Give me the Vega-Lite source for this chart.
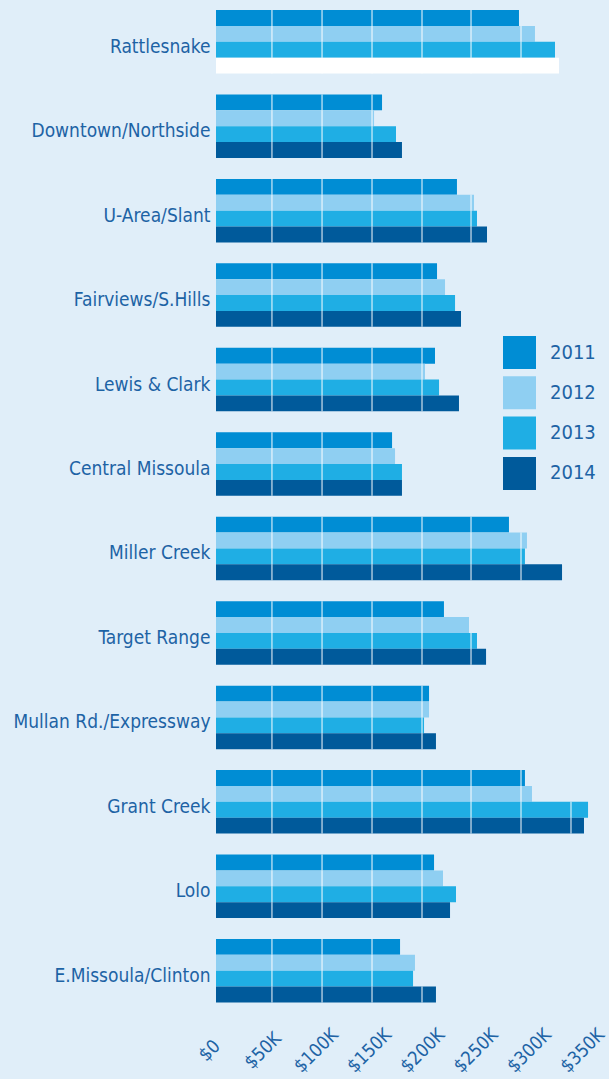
{
  "$schema": "https://vega.github.io/schema/vega-lite/v6.json",
  "width": 373,
  "height": 992.5,
  "autosize": {"type": "none"},
  "padding": {"left": 216, "top": 10, "right": 20, "bottom": 76.5},
  "background": "#e0eef9",
  "config": {"view": {"stroke": null}, "font": "DejaVu Sans Condensed, Roboto, sans-serif"},
  "datasets": {
    "prices": [
      {"hood": "Rattlesnake", "year": "2011", "price_k": 284.3},
      {"hood": "Rattlesnake", "year": "2012", "price_k": 299.3},
      {"hood": "Rattlesnake", "year": "2013", "price_k": 318.1},
      {"hood": "Rattlesnake", "year": "2014", "price_k": 321.9},
      {"hood": "Downtown/Northside", "year": "2011", "price_k": 155.8},
      {"hood": "Downtown/Northside", "year": "2012", "price_k": 148.3},
      {"hood": "Downtown/Northside", "year": "2013", "price_k": 168.9},
      {"hood": "Downtown/Northside", "year": "2014", "price_k": 174.5},
      {"hood": "U-Area/Slant", "year": "2011", "price_k": 226.1},
      {"hood": "U-Area/Slant", "year": "2012", "price_k": 242.1},
      {"hood": "U-Area/Slant", "year": "2013", "price_k": 244.9},
      {"hood": "U-Area/Slant", "year": "2014", "price_k": 254.3},
      {"hood": "Fairviews/S.Hills", "year": "2011", "price_k": 207.4},
      {"hood": "Fairviews/S.Hills", "year": "2012", "price_k": 214.9},
      {"hood": "Fairviews/S.Hills", "year": "2013", "price_k": 224.3},
      {"hood": "Fairviews/S.Hills", "year": "2014", "price_k": 229.9},
      {"hood": "Lewis & Clark", "year": "2011", "price_k": 205.5},
      {"hood": "Lewis & Clark", "year": "2012", "price_k": 196.1},
      {"hood": "Lewis & Clark", "year": "2013", "price_k": 209.3},
      {"hood": "Lewis & Clark", "year": "2014", "price_k": 228.0},
      {"hood": "Central Missoula", "year": "2011", "price_k": 165.2},
      {"hood": "Central Missoula", "year": "2012", "price_k": 168.0},
      {"hood": "Central Missoula", "year": "2013", "price_k": 174.5},
      {"hood": "Central Missoula", "year": "2014", "price_k": 174.5},
      {"hood": "Miller Creek", "year": "2011", "price_k": 274.9},
      {"hood": "Miller Creek", "year": "2012", "price_k": 291.8},
      {"hood": "Miller Creek", "year": "2013", "price_k": 289.9},
      {"hood": "Miller Creek", "year": "2014", "price_k": 324.7},
      {"hood": "Target Range", "year": "2011", "price_k": 213.9},
      {"hood": "Target Range", "year": "2012", "price_k": 237.4},
      {"hood": "Target Range", "year": "2013", "price_k": 244.9},
      {"hood": "Target Range", "year": "2014", "price_k": 253.4},
      {"hood": "Mullan Rd./Expressway", "year": "2011", "price_k": 199.9},
      {"hood": "Mullan Rd./Expressway", "year": "2012", "price_k": 199.9},
      {"hood": "Mullan Rd./Expressway", "year": "2013", "price_k": 195.2},
      {"hood": "Mullan Rd./Expressway", "year": "2014", "price_k": 206.4},
      {"hood": "Grant Creek", "year": "2011", "price_k": 289.9},
      {"hood": "Grant Creek", "year": "2012", "price_k": 296.5},
      {"hood": "Grant Creek", "year": "2013", "price_k": 349.1},
      {"hood": "Grant Creek", "year": "2014", "price_k": 345.3},
      {"hood": "Lolo", "year": "2011", "price_k": 204.6},
      {"hood": "Lolo", "year": "2012", "price_k": 213.0},
      {"hood": "Lolo", "year": "2013", "price_k": 225.2},
      {"hood": "Lolo", "year": "2014", "price_k": 219.6},
      {"hood": "E.Missoula/Clinton", "year": "2011", "price_k": 172.7},
      {"hood": "E.Missoula/Clinton", "year": "2012", "price_k": 186.7},
      {"hood": "E.Missoula/Clinton", "year": "2013", "price_k": 184.9},
      {"hood": "E.Missoula/Clinton", "year": "2014", "price_k": 206.4}
    ],
    "grid": [
      {"hood": "Rattlesnake", "year": "2011", "g": 52.5},
      {"hood": "Rattlesnake", "year": "2011", "g": 99.5},
      {"hood": "Rattlesnake", "year": "2011", "g": 146.4},
      {"hood": "Rattlesnake", "year": "2011", "g": 193.3},
      {"hood": "Rattlesnake", "year": "2011", "g": 239.3},
      {"hood": "Rattlesnake", "year": "2012", "g": 52.5},
      {"hood": "Rattlesnake", "year": "2012", "g": 99.5},
      {"hood": "Rattlesnake", "year": "2012", "g": 146.4},
      {"hood": "Rattlesnake", "year": "2012", "g": 193.3},
      {"hood": "Rattlesnake", "year": "2012", "g": 239.3},
      {"hood": "Rattlesnake", "year": "2012", "g": 286.2},
      {"hood": "Rattlesnake", "year": "2013", "g": 52.5},
      {"hood": "Rattlesnake", "year": "2013", "g": 99.5},
      {"hood": "Rattlesnake", "year": "2013", "g": 146.4},
      {"hood": "Rattlesnake", "year": "2013", "g": 193.3},
      {"hood": "Rattlesnake", "year": "2013", "g": 239.3},
      {"hood": "Rattlesnake", "year": "2013", "g": 286.2},
      {"hood": "Rattlesnake", "year": "2014", "g": 52.5},
      {"hood": "Rattlesnake", "year": "2014", "g": 99.5},
      {"hood": "Rattlesnake", "year": "2014", "g": 146.4},
      {"hood": "Rattlesnake", "year": "2014", "g": 193.3},
      {"hood": "Rattlesnake", "year": "2014", "g": 239.3},
      {"hood": "Rattlesnake", "year": "2014", "g": 286.2},
      {"hood": "Downtown/Northside", "year": "2011", "g": 52.5},
      {"hood": "Downtown/Northside", "year": "2011", "g": 99.5},
      {"hood": "Downtown/Northside", "year": "2011", "g": 146.4},
      {"hood": "Downtown/Northside", "year": "2012", "g": 52.5},
      {"hood": "Downtown/Northside", "year": "2012", "g": 99.5},
      {"hood": "Downtown/Northside", "year": "2012", "g": 146.4},
      {"hood": "Downtown/Northside", "year": "2013", "g": 52.5},
      {"hood": "Downtown/Northside", "year": "2013", "g": 99.5},
      {"hood": "Downtown/Northside", "year": "2013", "g": 146.4},
      {"hood": "Downtown/Northside", "year": "2014", "g": 52.5},
      {"hood": "Downtown/Northside", "year": "2014", "g": 99.5},
      {"hood": "Downtown/Northside", "year": "2014", "g": 146.4},
      {"hood": "U-Area/Slant", "year": "2011", "g": 52.5},
      {"hood": "U-Area/Slant", "year": "2011", "g": 99.5},
      {"hood": "U-Area/Slant", "year": "2011", "g": 146.4},
      {"hood": "U-Area/Slant", "year": "2011", "g": 193.3},
      {"hood": "U-Area/Slant", "year": "2012", "g": 52.5},
      {"hood": "U-Area/Slant", "year": "2012", "g": 99.5},
      {"hood": "U-Area/Slant", "year": "2012", "g": 146.4},
      {"hood": "U-Area/Slant", "year": "2012", "g": 193.3},
      {"hood": "U-Area/Slant", "year": "2012", "g": 239.3},
      {"hood": "U-Area/Slant", "year": "2013", "g": 52.5},
      {"hood": "U-Area/Slant", "year": "2013", "g": 99.5},
      {"hood": "U-Area/Slant", "year": "2013", "g": 146.4},
      {"hood": "U-Area/Slant", "year": "2013", "g": 193.3},
      {"hood": "U-Area/Slant", "year": "2013", "g": 239.3},
      {"hood": "U-Area/Slant", "year": "2014", "g": 52.5},
      {"hood": "U-Area/Slant", "year": "2014", "g": 99.5},
      {"hood": "U-Area/Slant", "year": "2014", "g": 146.4},
      {"hood": "U-Area/Slant", "year": "2014", "g": 193.3},
      {"hood": "U-Area/Slant", "year": "2014", "g": 239.3},
      {"hood": "Fairviews/S.Hills", "year": "2011", "g": 52.5},
      {"hood": "Fairviews/S.Hills", "year": "2011", "g": 99.5},
      {"hood": "Fairviews/S.Hills", "year": "2011", "g": 146.4},
      {"hood": "Fairviews/S.Hills", "year": "2011", "g": 193.3},
      {"hood": "Fairviews/S.Hills", "year": "2012", "g": 52.5},
      {"hood": "Fairviews/S.Hills", "year": "2012", "g": 99.5},
      {"hood": "Fairviews/S.Hills", "year": "2012", "g": 146.4},
      {"hood": "Fairviews/S.Hills", "year": "2012", "g": 193.3},
      {"hood": "Fairviews/S.Hills", "year": "2013", "g": 52.5},
      {"hood": "Fairviews/S.Hills", "year": "2013", "g": 99.5},
      {"hood": "Fairviews/S.Hills", "year": "2013", "g": 146.4},
      {"hood": "Fairviews/S.Hills", "year": "2013", "g": 193.3},
      {"hood": "Fairviews/S.Hills", "year": "2014", "g": 52.5},
      {"hood": "Fairviews/S.Hills", "year": "2014", "g": 99.5},
      {"hood": "Fairviews/S.Hills", "year": "2014", "g": 146.4},
      {"hood": "Fairviews/S.Hills", "year": "2014", "g": 193.3},
      {"hood": "Lewis & Clark", "year": "2011", "g": 52.5},
      {"hood": "Lewis & Clark", "year": "2011", "g": 99.5},
      {"hood": "Lewis & Clark", "year": "2011", "g": 146.4},
      {"hood": "Lewis & Clark", "year": "2011", "g": 193.3},
      {"hood": "Lewis & Clark", "year": "2012", "g": 52.5},
      {"hood": "Lewis & Clark", "year": "2012", "g": 99.5},
      {"hood": "Lewis & Clark", "year": "2012", "g": 146.4},
      {"hood": "Lewis & Clark", "year": "2012", "g": 193.3},
      {"hood": "Lewis & Clark", "year": "2013", "g": 52.5},
      {"hood": "Lewis & Clark", "year": "2013", "g": 99.5},
      {"hood": "Lewis & Clark", "year": "2013", "g": 146.4},
      {"hood": "Lewis & Clark", "year": "2013", "g": 193.3},
      {"hood": "Lewis & Clark", "year": "2014", "g": 52.5},
      {"hood": "Lewis & Clark", "year": "2014", "g": 99.5},
      {"hood": "Lewis & Clark", "year": "2014", "g": 146.4},
      {"hood": "Lewis & Clark", "year": "2014", "g": 193.3},
      {"hood": "Central Missoula", "year": "2011", "g": 52.5},
      {"hood": "Central Missoula", "year": "2011", "g": 99.5},
      {"hood": "Central Missoula", "year": "2011", "g": 146.4},
      {"hood": "Central Missoula", "year": "2012", "g": 52.5},
      {"hood": "Central Missoula", "year": "2012", "g": 99.5},
      {"hood": "Central Missoula", "year": "2012", "g": 146.4},
      {"hood": "Central Missoula", "year": "2013", "g": 52.5},
      {"hood": "Central Missoula", "year": "2013", "g": 99.5},
      {"hood": "Central Missoula", "year": "2013", "g": 146.4},
      {"hood": "Central Missoula", "year": "2014", "g": 52.5},
      {"hood": "Central Missoula", "year": "2014", "g": 99.5},
      {"hood": "Central Missoula", "year": "2014", "g": 146.4},
      {"hood": "Miller Creek", "year": "2011", "g": 52.5},
      {"hood": "Miller Creek", "year": "2011", "g": 99.5},
      {"hood": "Miller Creek", "year": "2011", "g": 146.4},
      {"hood": "Miller Creek", "year": "2011", "g": 193.3},
      {"hood": "Miller Creek", "year": "2011", "g": 239.3},
      {"hood": "Miller Creek", "year": "2012", "g": 52.5},
      {"hood": "Miller Creek", "year": "2012", "g": 99.5},
      {"hood": "Miller Creek", "year": "2012", "g": 146.4},
      {"hood": "Miller Creek", "year": "2012", "g": 193.3},
      {"hood": "Miller Creek", "year": "2012", "g": 239.3},
      {"hood": "Miller Creek", "year": "2012", "g": 286.2},
      {"hood": "Miller Creek", "year": "2013", "g": 52.5},
      {"hood": "Miller Creek", "year": "2013", "g": 99.5},
      {"hood": "Miller Creek", "year": "2013", "g": 146.4},
      {"hood": "Miller Creek", "year": "2013", "g": 193.3},
      {"hood": "Miller Creek", "year": "2013", "g": 239.3},
      {"hood": "Miller Creek", "year": "2013", "g": 286.2},
      {"hood": "Miller Creek", "year": "2014", "g": 52.5},
      {"hood": "Miller Creek", "year": "2014", "g": 99.5},
      {"hood": "Miller Creek", "year": "2014", "g": 146.4},
      {"hood": "Miller Creek", "year": "2014", "g": 193.3},
      {"hood": "Miller Creek", "year": "2014", "g": 239.3},
      {"hood": "Miller Creek", "year": "2014", "g": 286.2},
      {"hood": "Target Range", "year": "2011", "g": 52.5},
      {"hood": "Target Range", "year": "2011", "g": 99.5},
      {"hood": "Target Range", "year": "2011", "g": 146.4},
      {"hood": "Target Range", "year": "2011", "g": 193.3},
      {"hood": "Target Range", "year": "2012", "g": 52.5},
      {"hood": "Target Range", "year": "2012", "g": 99.5},
      {"hood": "Target Range", "year": "2012", "g": 146.4},
      {"hood": "Target Range", "year": "2012", "g": 193.3},
      {"hood": "Target Range", "year": "2013", "g": 52.5},
      {"hood": "Target Range", "year": "2013", "g": 99.5},
      {"hood": "Target Range", "year": "2013", "g": 146.4},
      {"hood": "Target Range", "year": "2013", "g": 193.3},
      {"hood": "Target Range", "year": "2013", "g": 239.3},
      {"hood": "Target Range", "year": "2014", "g": 52.5},
      {"hood": "Target Range", "year": "2014", "g": 99.5},
      {"hood": "Target Range", "year": "2014", "g": 146.4},
      {"hood": "Target Range", "year": "2014", "g": 193.3},
      {"hood": "Target Range", "year": "2014", "g": 239.3},
      {"hood": "Mullan Rd./Expressway", "year": "2011", "g": 52.5},
      {"hood": "Mullan Rd./Expressway", "year": "2011", "g": 99.5},
      {"hood": "Mullan Rd./Expressway", "year": "2011", "g": 146.4},
      {"hood": "Mullan Rd./Expressway", "year": "2011", "g": 193.3},
      {"hood": "Mullan Rd./Expressway", "year": "2012", "g": 52.5},
      {"hood": "Mullan Rd./Expressway", "year": "2012", "g": 99.5},
      {"hood": "Mullan Rd./Expressway", "year": "2012", "g": 146.4},
      {"hood": "Mullan Rd./Expressway", "year": "2012", "g": 193.3},
      {"hood": "Mullan Rd./Expressway", "year": "2013", "g": 52.5},
      {"hood": "Mullan Rd./Expressway", "year": "2013", "g": 99.5},
      {"hood": "Mullan Rd./Expressway", "year": "2013", "g": 146.4},
      {"hood": "Mullan Rd./Expressway", "year": "2013", "g": 193.3},
      {"hood": "Mullan Rd./Expressway", "year": "2014", "g": 52.5},
      {"hood": "Mullan Rd./Expressway", "year": "2014", "g": 99.5},
      {"hood": "Mullan Rd./Expressway", "year": "2014", "g": 146.4},
      {"hood": "Mullan Rd./Expressway", "year": "2014", "g": 193.3},
      {"hood": "Grant Creek", "year": "2011", "g": 52.5},
      {"hood": "Grant Creek", "year": "2011", "g": 99.5},
      {"hood": "Grant Creek", "year": "2011", "g": 146.4},
      {"hood": "Grant Creek", "year": "2011", "g": 193.3},
      {"hood": "Grant Creek", "year": "2011", "g": 239.3},
      {"hood": "Grant Creek", "year": "2011", "g": 286.2},
      {"hood": "Grant Creek", "year": "2012", "g": 52.5},
      {"hood": "Grant Creek", "year": "2012", "g": 99.5},
      {"hood": "Grant Creek", "year": "2012", "g": 146.4},
      {"hood": "Grant Creek", "year": "2012", "g": 193.3},
      {"hood": "Grant Creek", "year": "2012", "g": 239.3},
      {"hood": "Grant Creek", "year": "2012", "g": 286.2},
      {"hood": "Grant Creek", "year": "2013", "g": 52.5},
      {"hood": "Grant Creek", "year": "2013", "g": 99.5},
      {"hood": "Grant Creek", "year": "2013", "g": 146.4},
      {"hood": "Grant Creek", "year": "2013", "g": 193.3},
      {"hood": "Grant Creek", "year": "2013", "g": 239.3},
      {"hood": "Grant Creek", "year": "2013", "g": 286.2},
      {"hood": "Grant Creek", "year": "2013", "g": 333.1},
      {"hood": "Grant Creek", "year": "2014", "g": 52.5},
      {"hood": "Grant Creek", "year": "2014", "g": 99.5},
      {"hood": "Grant Creek", "year": "2014", "g": 146.4},
      {"hood": "Grant Creek", "year": "2014", "g": 193.3},
      {"hood": "Grant Creek", "year": "2014", "g": 239.3},
      {"hood": "Grant Creek", "year": "2014", "g": 286.2},
      {"hood": "Grant Creek", "year": "2014", "g": 333.1},
      {"hood": "Lolo", "year": "2011", "g": 52.5},
      {"hood": "Lolo", "year": "2011", "g": 99.5},
      {"hood": "Lolo", "year": "2011", "g": 146.4},
      {"hood": "Lolo", "year": "2011", "g": 193.3},
      {"hood": "Lolo", "year": "2012", "g": 52.5},
      {"hood": "Lolo", "year": "2012", "g": 99.5},
      {"hood": "Lolo", "year": "2012", "g": 146.4},
      {"hood": "Lolo", "year": "2012", "g": 193.3},
      {"hood": "Lolo", "year": "2013", "g": 52.5},
      {"hood": "Lolo", "year": "2013", "g": 99.5},
      {"hood": "Lolo", "year": "2013", "g": 146.4},
      {"hood": "Lolo", "year": "2013", "g": 193.3},
      {"hood": "Lolo", "year": "2014", "g": 52.5},
      {"hood": "Lolo", "year": "2014", "g": 99.5},
      {"hood": "Lolo", "year": "2014", "g": 146.4},
      {"hood": "Lolo", "year": "2014", "g": 193.3},
      {"hood": "E.Missoula/Clinton", "year": "2011", "g": 52.5},
      {"hood": "E.Missoula/Clinton", "year": "2011", "g": 99.5},
      {"hood": "E.Missoula/Clinton", "year": "2011", "g": 146.4},
      {"hood": "E.Missoula/Clinton", "year": "2012", "g": 52.5},
      {"hood": "E.Missoula/Clinton", "year": "2012", "g": 99.5},
      {"hood": "E.Missoula/Clinton", "year": "2012", "g": 146.4},
      {"hood": "E.Missoula/Clinton", "year": "2013", "g": 52.5},
      {"hood": "E.Missoula/Clinton", "year": "2013", "g": 99.5},
      {"hood": "E.Missoula/Clinton", "year": "2013", "g": 146.4},
      {"hood": "E.Missoula/Clinton", "year": "2014", "g": 52.5},
      {"hood": "E.Missoula/Clinton", "year": "2014", "g": 99.5},
      {"hood": "E.Missoula/Clinton", "year": "2014", "g": 146.4},
      {"hood": "E.Missoula/Clinton", "year": "2014", "g": 193.3}
    ]
  },
  "layer": [
    {
      "data": {"name": "prices"},
      "mark": {"type": "bar"},
      "encoding": {
        "y": {
          "field": "hood", "type": "nominal",
          "sort": ["Rattlesnake", "Downtown/Northside", "U-Area/Slant", "Fairviews/S.Hills", "Lewis & Clark", "Central Missoula", "Miller Creek", "Target Range", "Mullan Rd./Expressway", "Grant Creek", "Lolo", "E.Missoula/Clinton"],
          "scale": {"paddingInner": 0.248, "paddingOuter": 0},
          "axis": {"title": null, "domain": false, "ticks": false, "labelPadding": 6, "labelFontSize": 19, "labelColor": "#1d63a5", "labelOffset": 5, "labelLimit": 0}
        },
        "yOffset": {"field": "year", "type": "nominal", "scale": {"paddingInner": 0, "paddingOuter": 0}},
        "x": {
          "field": "price_k", "type": "quantitative", "stack": null,
          "scale": {"domain": [0, 350], "nice": false},
          "axis": {"title": null, "domain": false, "ticks": false, "tickSize": 0, "grid": false, "values": [0, 50, 100, 150, 200, 250, 300, 350], "labelAngle": -45, "labelAlign": "center", "labelBaseline": "middle", "labelPadding": 47.5, "labelOffset": -7, "labelFontSize": 18.5, "labelColor": "#1d63a5", "labelFlush": false, "labelOverlap": false, "labelExpr": "datum.value === 0 ? '$0' : '$' + datum.value + 'K'"}
        },
        "color": {
          "condition": {"test": "datum.hood === 'Rattlesnake' && datum.year === '2014'", "value": "#ffffff"},
          "field": "year", "type": "nominal",
          "scale": {"domain": ["2011", "2012", "2013", "2014"], "range": ["#008dd4", "#8fcff2", "#1faee4", "#005a9b"]},
          "legend": {"title": null, "orient": "none", "legendX": 287, "legendY": 326, "symbolType": "square", "symbolSize": 1089, "symbolStrokeWidth": 0, "symbolOpacity": 1, "labelFontSize": 20, "labelColor": "#1d63a5", "labelOffset": 14, "rowPadding": 7.3, "padding": 0}
        }
      }
    },
    {
      "data": {"name": "grid"},
      "mark": {"type": "bar", "fillOpacity": 0, "stroke": "#ffffff", "strokeWidth": 1.3, "strokeOpacity": 0.75},
      "encoding": {
        "y": {"field": "hood", "type": "nominal", "sort": ["Rattlesnake", "Downtown/Northside", "U-Area/Slant", "Fairviews/S.Hills", "Lewis & Clark", "Central Missoula", "Miller Creek", "Target Range", "Mullan Rd./Expressway", "Grant Creek", "Lolo", "E.Missoula/Clinton"]},
        "yOffset": {"field": "year", "type": "nominal"},
        "x": {"field": "g", "type": "quantitative"},
        "x2": {"field": "g"}
      }
    }
  ]
}
